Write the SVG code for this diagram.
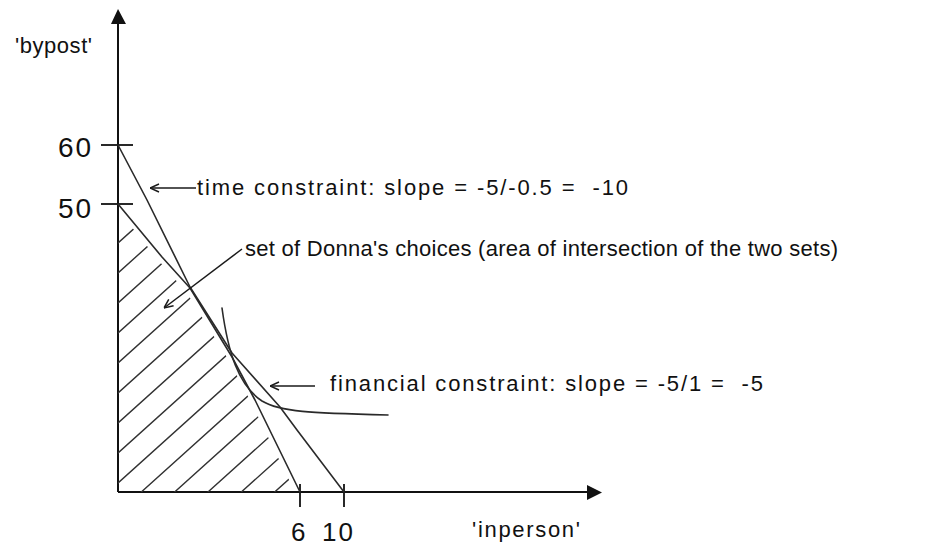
<svg xmlns="http://www.w3.org/2000/svg" width="940" height="549" viewBox="0 0 940 549">
  <style>
    .axis { stroke: #111; stroke-width: 2; fill: none; }
    .tick { stroke: #111; stroke-width: 1.8; fill: none; }
    .line { stroke: #2a2a2a; stroke-width: 1.6; fill: none; stroke-linejoin: round; stroke-linecap: round; }
    .hatch { stroke: #333; stroke-width: 1.4; fill: none; }
    .conn { stroke: #1a1a1a; stroke-width: 1.5; fill: none; }
    .txt { font-family: "Liberation Sans", Arial, sans-serif; font-size: 22px; fill: #111; }
    .num { font-family: "Liberation Sans", Arial, sans-serif; font-size: 28px; fill: #111; }
    .numb { font-family: "Liberation Sans", Arial, sans-serif; font-size: 26px; fill: #111; }
  </style>
  <defs>
    <marker id="openArrow" viewBox="0 0 10 10" refX="10" refY="5" markerWidth="10" markerHeight="10" markerUnits="userSpaceOnUse" orient="auto">
      <path d="M1,1 L10,5 L1,9" stroke="#1a1a1a" stroke-width="1.5" fill="none"/>
    </marker>
    <clipPath id="hatchClip">
      <polygon points="118,210 160,262 187,293 228,359 251,402 295,492 118,492"/>
    </clipPath>
  </defs>
  <rect width="940" height="549" fill="#ffffff"/>

  <g id="axes">
    <line class="axis" x1="118" y1="492" x2="118" y2="20"/>
    <polygon points="118,9 111,24 126,24" fill="#111"/>
    <line class="axis" x1="118" y1="492" x2="590" y2="492"/>
    <polygon points="602,492.5 587,485 587,500" fill="#111"/>
    <text class="txt" x="15" y="53" textLength="77" lengthAdjust="spacing">'bypost'</text>
    <text class="txt" x="472" y="537" textLength="108" lengthAdjust="spacing">'inperson'</text>
  </g>

  <g id="ticks">
    <line class="tick" x1="101" y1="145" x2="133" y2="145"/>
    <line class="tick" x1="101" y1="204" x2="133" y2="204"/>
    <line class="tick" x1="300" y1="484" x2="300" y2="507"/>
    <line class="tick" x1="344" y1="484" x2="344" y2="507"/>
    <text class="num" x="58" y="157" textLength="33" lengthAdjust="spacing">60</text>
    <text class="num" x="58" y="218" textLength="33" lengthAdjust="spacing">50</text>
    <text class="numb" x="291" y="541">6</text>
    <text class="numb" x="322" y="541" textLength="31" lengthAdjust="spacing">10</text>
  </g>

  <g id="hatching" clip-path="url(#hatchClip)">
    <path class="hatch" d="M100,259.2 L320,61.2 M100,289.2 L320,91.2 M100,319.2 L320,121.2 M100,349.2 L320,151.2 M100,379.2 L320,181.2 M100,409.2 L320,211.2 M100,439.2 L320,241.2 M100,469.2 L320,271.2 M100,499.2 L320,301.2 M100,529.2 L320,331.2 M100,559.2 L320,361.2 M100,589.2 L320,391.2 M100,619.2 L320,421.2 M100,649.2 L320,451.2"/>
  </g>

  <g id="time-constraint">
    <polyline class="line" points="118,145 147,200 190,287 232,353 280,407 297,430 344,492"/>
  </g>

  <g id="financial-constraint">
    <polyline class="line" points="118,204 162,257 190,288 232,357 255,400 300,492"/>
  </g>

  <g id="indifference-curve">
    <path class="line" d="M222,308 C228,352 238,385 262,401 C280,412 310,413 388,415"/>
  </g>

  <g id="connectors">
    <line class="conn" x1="196" y1="188" x2="150" y2="188" marker-end="url(#openArrow)"/>
    <line class="conn" x1="242" y1="249" x2="164" y2="308" marker-end="url(#openArrow)"/>
    <line class="conn" x1="315" y1="386" x2="270" y2="386" marker-end="url(#openArrow)"/>
  </g>

  <g id="labels">
    <text class="txt" x="197" y="195" xml:space="preserve" textLength="431" lengthAdjust="spacing">time constraint: slope = -5/-0.5 =  -10</text>
    <text class="txt" x="245" y="256" textLength="593" lengthAdjust="spacing">set of Donna's choices (area of intersection of the two sets)</text>
    <text class="txt" x="330" y="391" xml:space="preserve" textLength="433" lengthAdjust="spacing">financial constraint: slope = -5/1 =  -5</text>
  </g>
</svg>
